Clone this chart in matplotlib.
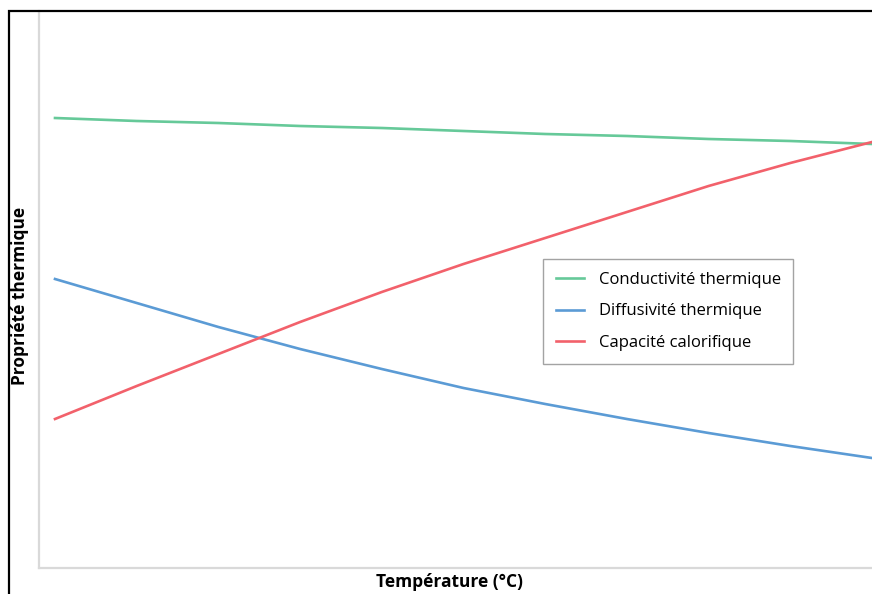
import matplotlib.pyplot as plt
from matplotlib.patches import Rectangle

plt.rcParams["font.family"] = ['Open Sans', 'DejaVu Sans']

# temperature (arbitrary units, no ticks in the original)
temp = [0, 1, 2, 3, 4, 5, 6, 7, 8, 9, 10]
conductivite = [45.0, 44.7, 44.5, 44.2, 44.0, 43.7, 43.4, 43.2, 42.9, 42.7, 42.4]
diffusivite = [28.9, 26.5, 24.1, 21.9, 19.9, 18.0, 16.4, 14.9, 13.5, 12.2, 11.0]
capacite = [14.9, 18.2, 21.4, 24.6, 27.6, 30.4, 33.0, 35.6, 38.2, 40.5, 42.6]

labels = ['Conductivité thermique', 'Diffusivité thermique', 'Capacité calorifique']
colors = ['#66c999', '#5b9bd5', '#f2616b']

W, H = 872, 594
fig = plt.figure(figsize=(W / 100, H / 100), dpi=100)

# black frame around the picture (cut on the right/bottom)
fig.patches.append(Rectangle((8.5 / W, -0.1), 1.2, 1.1 - 10.5 / H, transform=fig.transFigure,
                             fill=False, edgecolor='black', linewidth=1.6))

ax = fig.add_axes([39 / W, 1 - 568 / H, (882 - 39) / W, (568 - 11) / H])
for y, c, lab in zip([conductivite, diffusivite, capacite], colors, labels):
    ax.plot(temp, y, color=c, linewidth=1.9, label=lab)

ax.set_xlim(-16 / 81.7, 10 + 10 / 81.7)
ax.set_ylim(0, 55.7)
ax.set_xticks([])
ax.set_yticks([])
for s in ['top', 'right']:
    ax.spines[s].set_visible(False)
for s in ['left', 'bottom']:
    ax.spines[s].set_color('#d9d9d9')
    ax.spines[s].set_linewidth(1.6)

leg = ax.legend(loc='upper left', bbox_to_anchor=((543 - 39) / (882 - 39), (568 - 259) / (568 - 11)),
                fontsize=12, fancybox=False, edgecolor='#8c8c8c', handlelength=1.7,
                borderpad=0.75, labelspacing=0.95, handletextpad=0.9, borderaxespad=0)
leg.get_frame().set_linewidth(1.0)

fig.text(450 / W, 1 - 582 / H, 'Température (°C)', ha='center', va='center',
         fontsize=12.5, fontweight='bold')
fig.text(20 / W, 1 - 296 / H, 'Propriété thermique', ha='center', va='center',
         rotation=90, fontsize=12.5, fontweight='bold')

plt.savefig('out.png', dpi=100)
